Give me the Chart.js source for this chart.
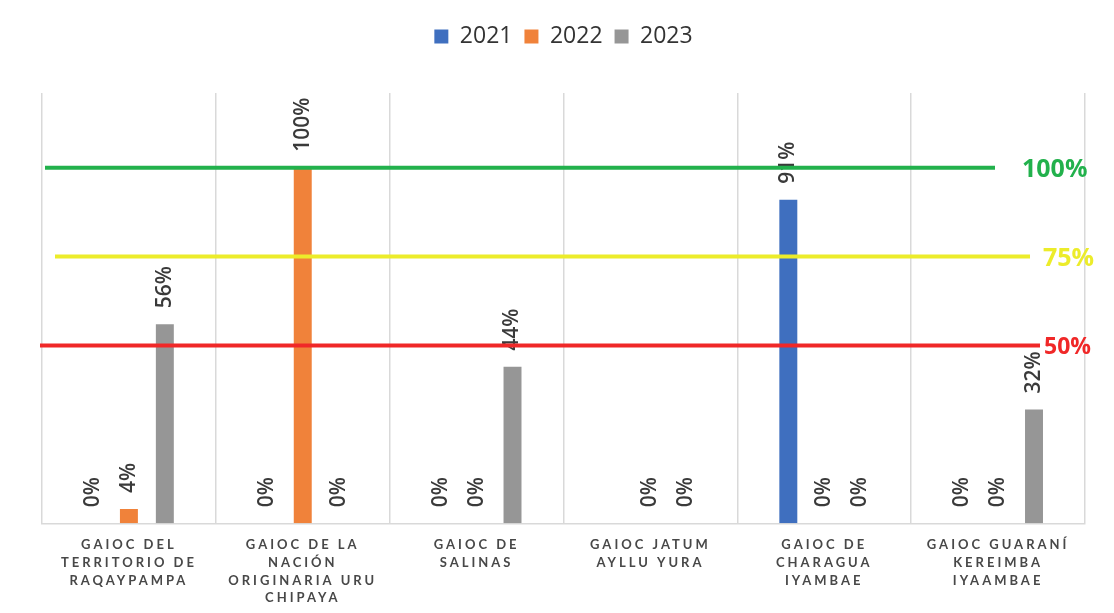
<!DOCTYPE html>
<html>
<head>
<meta charset="utf-8">
<script src="https://cdn.jsdelivr.net/npm/chart.js@4/dist/chart.umd.min.js"></script>
<style>
  html, body { margin: 0; padding: 0; background: #ffffff; }
  #wrap { width: 1114px; height: 613px; }
</style>
</head>
<body>
<div id="wrap"><canvas id="barChart"></canvas></div>
<script>
// categories (multi-line labels, as in the picture)
const categories = [
  ['GAIOC DEL', 'TERRITORIO DE', 'RAQAYPAMPA'],
  ['GAIOC DE LA', 'NACIÓN', 'ORIGINARIA URU', 'CHIPAYA'],
  ['GAIOC DE', 'SALINAS'],
  ['GAIOC JATUM', 'AYLLU YURA'],
  ['GAIOC DE', 'CHARAGUA', 'IYAMBAE'],
  ['GAIOC GUARANÍ', 'KEREIMBA', 'IYAAMBAE']
];
const seriesNames = ['2021', '2022', '2023'];
const values2021 = [0, 0, 0, null, 91, 0];
const values2022 = [4, 100, 0, 0, 0, 0];
const values2023 = [56, 0, 44, 0, 0, 32];

// reference levels drawn across the chart
const targetLevels = [100, 75, 50];
const targetLabels = ['100%', '75%', '50%'];

const seriesColors = ['#3f6fbf', '#f0823a', '#969696'];
const targetColors = ['#22b14c', '#ecec2a', '#f02828'];

// pushes the plot area down below the legend
const legendGap = {
  id: 'legendGap',
  beforeInit(chart) {
    const fit = chart.legend.fit;
    chart.legend.fit = function () {
      fit.bind(chart.legend)();
      this.height += 35;
    };
  }
};

const overlay = {
  id: 'overlay',
  beforeDraw(chart) {
    chart.ctx.letterSpacing = '0px';
  },
  afterDatasetsDraw(chart) {
    const ctx = chart.ctx;
    const y = chart.scales.y;
    const area = chart.chartArea;

    // value labels, rotated
    ctx.save();
    ctx.font = '600 21px "Open Sans"';
    ctx.fillStyle = '#3a3a3a';
    ctx.textAlign = 'left';
    ctx.textBaseline = 'middle';
    chart.data.datasets.forEach((ds, i) => {
      const meta = chart.getDatasetMeta(i);
      meta.data.forEach((bar, j) => {
        const v = ds.data[j];
        if (v === null || v === undefined) return;
        ctx.save();
        ctx.translate(bar.x, bar.y - 16);
        ctx.rotate(-Math.PI / 2);
        ctx.fillText(v + '%', 0, 0);
        ctx.restore();
      });
    });
    ctx.restore();

    // target lines
    const spans = [[3, 953, 980], [13, 988, 1001], [-2, 998, 1002]];
    ctx.save();
    ctx.lineWidth = 4;
    ctx.textBaseline = 'middle';
    ctx.textAlign = 'left';
    targetLevels.forEach((lvl, k) => {
      const py = y.getPixelForValue(lvl);
      ctx.strokeStyle = targetColors[k];
      ctx.beginPath();
      ctx.moveTo(area.left + spans[k][0], py);
      ctx.lineTo(area.left + spans[k][1], py);
      ctx.stroke();
      ctx.fillStyle = targetColors[k];
      ctx.font = (k === 2 ? 'bold 23px' : 'bold 25px') + ' "Open Sans"';
      ctx.fillText(targetLabels[k], area.left + spans[k][2], py + 2);
    });
    ctx.restore();

    // spaced capitals for the category labels drawn next
    ctx.letterSpacing = '3px';
  },
  afterDraw(chart) {
    chart.ctx.letterSpacing = '0px';
  }
};

new Chart(document.getElementById('barChart'), {
  type: 'bar',
  data: {
    labels: categories,
    datasets: [
      { label: seriesNames[0], data: values2021, backgroundColor: seriesColors[0] },
      { label: seriesNames[1], data: values2022, backgroundColor: seriesColors[1] },
      { label: seriesNames[2], data: values2023, backgroundColor: seriesColors[2] }
    ]
  },
  options: {
    responsive: true,
    maintainAspectRatio: false,
    animation: false,
    categoryPercentage: 0.62,
    barPercentage: 0.5,
    layout: { padding: { left: 42, right: 29, top: 13, bottom: -7 } },
    plugins: {
      legend: {
        display: true,
        position: 'top',
        labels: {
          boxWidth: 14,
          boxHeight: 14,
          padding: 12,
          color: '#333333',
          font: { size: 23, family: '"Open Sans"' }
        }
      },
      tooltip: { enabled: false }
    },
    scales: {
      x: {
        grid: { display: true, offset: true, color: '#d9d9d9', lineWidth: 1.5, drawTicks: false },
        border: { color: '#d9d9d9', width: 1.5 },
        ticks: {
          z: 1,
          padding: 13,
          maxRotation: 0,
          autoSkip: false,
          color: '#484848',
          font: { size: 13, weight: 'bold', family: 'Lato', lineHeight: 1.36 }
        }
      },
      y: {
        display: false,
        min: 0,
        max: 121
      }
    }
  },
  plugins: [legendGap, overlay]
});
</script>
</body>
</html>
